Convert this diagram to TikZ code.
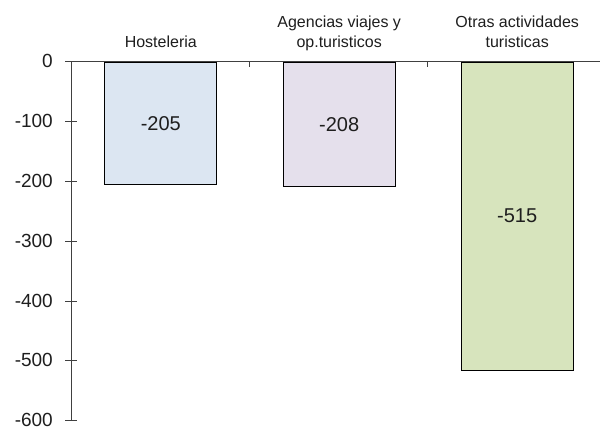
\documentclass[tikz,border=0pt]{standalone}
\usepackage{fontspec}
\setmainfont{Liberation Sans}
\definecolor{axisc}{RGB}{64,64,64}
\definecolor{txtc}{RGB}{30,30,30}
\definecolor{fillA}{RGB}{220,230,242}
\definecolor{fillB}{RGB}{229,224,236}
\definecolor{fillC}{RGB}{215,228,189}
\begin{document}
\begin{tikzpicture}[x=1pt,y=-1pt,
  bar/.style={draw=black,line width=1.1pt,inner sep=0pt,minimum width=112pt,anchor=north},
  val/.style={font=\fontsize{20}{23}\selectfont,text=txtc},
  cat/.style={font=\fontsize{16}{19.5}\selectfont,text=txtc,align=center,anchor=base},
  ylab/.style={font=\fontsize{19}{22}\selectfont,text=txtc,anchor=east,inner sep=0pt},
  axis/.style={draw=axisc,line width=0.9pt}]
\useasboundingbox (0,0) rectangle (600,428);
% axes
\coordinate (o) at (71,61.7);
\coordinate (yend) at (71,420.7);
\coordinate (xend) at (600,61.7);
\draw[axis] (yend) -- (o) -- (xend);
% y ticks
\foreach \v/\t in {0/0,1/-100,2/-200,3/-300,4/-400,5/-500,6/-600}{
  \coordinate (yt\v) at (71,61.7+59.83*\v);
  \draw[axis] ([xshift=-6pt]yt\v) -- ([xshift=6pt]yt\v);
  \node[ylab] (yl\v) at ([xshift=-18pt,yshift=0.5pt]yt\v) {\t};
}
% category ticks
\foreach \i/\x in {1/249.3,2/427.7}{
  \coordinate (ct\i) at (\x,61.7);
  \draw[axis] (ct\i) -- ++(0,5);
}
% bars
\node[bar,fill=fillA,minimum height=122.6pt] (b1) at (160.8,61.7) {};
\node[bar,fill=fillB,minimum height=124.4pt] (b2) at (339.2,61.7) {};
\node[bar,fill=fillC,minimum height=308.1pt] (b3) at (517.2,61.7) {};
% values
\node[val] (v1) at (160.8,124) {-205};
\node[val] (v2) at (339.2,125) {-208};
\node[val] (v3) at (517.2,216) {-515};
% category labels
\node[cat] (c1) at (160.8,48) {Hosteleria};
\node[cat] (c2) at (339.2,47.5) {Agencias viajes y\\op.turisticos};
\node[cat] (c3) at (517.2,47.5) {Otras actividades\\turisticas};
\end{tikzpicture}
\end{document}
